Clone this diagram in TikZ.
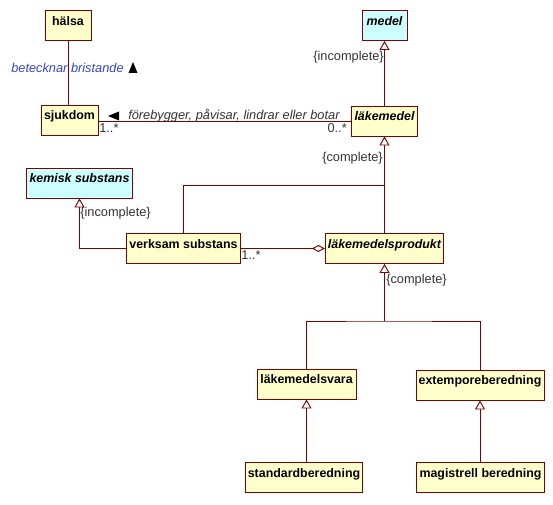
\documentclass[tikz,border=0pt]{standalone}
\usepackage{fontspec}
\setmainfont{Liberation Sans}
\usetikzlibrary{arrows.meta}

\definecolor{umlred}{RGB}{128,0,0}
\definecolor{umlfill}{RGB}{255,255,204}
\definecolor{umlabs}{RGB}{204,255,255}
\definecolor{umlblue}{RGB}{51,68,204}
\definecolor{umlgray}{RGB}{51,51,51}

\begin{document}
\begin{tikzpicture}[
  x=0.75pt, y=-0.75pt,
  umlclass/.style = {draw=umlred, fill=umlfill, line width=0.7pt,
    font=\fontsize{9.3}{10}\selectfont\bfseries,
    text height=9pt, text depth=9pt, inner ysep=2.25pt, inner xsep=2pt},
  umlitalic/.style = {umlclass,
    font=\fontsize{9.3}{10}\selectfont\bfseries\itshape},
  umlabstract/.style = {umlitalic, fill=umlabs},
  umlconn/.style = {draw=umlred, line width=0.7pt},
  umlgen/.style = {umlconn, -{Triangle[open, width=7.5pt, length=6.75pt, fill=white]}},
  umlagg/.style = {umlconn, -{Diamond[open, width=5.25pt, length=9.75pt, fill=white]}},
  umllbl/.style = {inner sep=0pt, text=umlgray, font=\fontsize{9.6}{10}\selectfont},
  umlrole/.style = {umllbl, font=\fontsize{9.6}{10}\selectfont\itshape},
  umldir/.style = {fill=black}
]
  \useasboundingbox (0,0) rectangle (553,505);

  % klasser
  \node[umlclass, minimum width=34.5pt] (halsa) at (68,25.5) {hälsa};
  \node[umlclass, minimum width=42.75pt] (sjukdom) at (69.5,120) {sjukdom};
  \node[umlabstract, minimum width=33.75pt] (medel) at (384.5,25.5) {medel};
  \node[umlitalic, minimum width=48.75pt] (lakemedel) at (384.5,121) {läkemedel};
  \node[umlabstract, minimum width=78.75pt] (kemisk) at (79.5,183) {kemisk substans};
  \node[umlclass, minimum width=84.75pt] (verksam) at (183.5,248.5) {verksam substans};
  \node[umlitalic, minimum width=87.75pt] (produkt) at (384.5,248.5) {läkemedelsprodukt};
  \node[umlclass, minimum width=74.25pt] (vara) at (306.5,384) {läkemedelsvara};
  \node[umlclass, minimum width=94.5pt] (extempore) at (480,385) {extemporeberedning};
  \node[umlclass, minimum width=85.5pt] (standard) at (304,477.5) {standardberedning};
  \node[umlclass, minimum width=92.25pt] (magistrell) at (480.5,477.5) {magistrell beredning};

  % hälsa -- sjukdom
  \draw[umlconn] (halsa.south) -- (halsa.south |- sjukdom.north);
  \node[umlrole, text=umlblue, anchor=west] (beteckn) at (11,68) {betecknar bristande};
  \coordinate (dirup) at (133,67.5);
  \fill[umldir] (dirup) ++(-4.5,5.5) -- ++(9,0) -- ++(-4.5,-11) -- cycle;

  % sjukdom -- läkemedel
  \draw[umlconn] (lakemedel.west) -- (lakemedel.west -| sjukdom.east);
  \coordinate (dirleft) at (108,116);
  \fill[umldir] (dirleft) -- ++(11,-4.5) -- ++(0,9) -- cycle;
  \node[umlrole, anchor=west] (forebygg) at (128,116) {förebygger, påvisar, lindrar eller botar};
  \node[umllbl, anchor=base west] (mult1) at (99,133) {1..*};
  \node[umllbl, anchor=base east] (mult2) at (347,133) {0..*};

  % generaliseringar
  \draw[umlgen] (lakemedel.north) -- (medel.south);
  \node[umllbl, anchor=east] (inc1) at (384,57) {\{incomplete\}};

  \coordinate (join1) at (384.5,185);
  \draw[umlgen] (produkt.north) -- (lakemedel.south);
  \draw[umlconn] (verksam.north) |- (join1);
  \node[umllbl, anchor=east] (comp1) at (383,158) {\{complete\}};

  \draw[umlgen] (verksam.west) -| (kemisk.south);
  \node[umllbl, anchor=west] (inc2) at (80,213) {\{incomplete\}};

  % aggregering
  \draw[umlagg] (verksam.east) -- (produkt.west);
  \node[umllbl, anchor=base west] (mult3) at (241,260) {1..*};

  \coordinate (join2) at (384.5,321);
  \draw[umlgen] (join2) -- (produkt.south);
  \draw[umlconn] (vara.north) |- (join2) -| (extempore.north);
  \node[umllbl, anchor=west] (comp2) at (386,280) {\{complete\}};

  \draw[umlgen] (vara.south |- standard.north) -- (vara.south);
  \draw[umlgen] (extempore.south |- magistrell.north) -- (extempore.south);
\end{tikzpicture}
\end{document}
